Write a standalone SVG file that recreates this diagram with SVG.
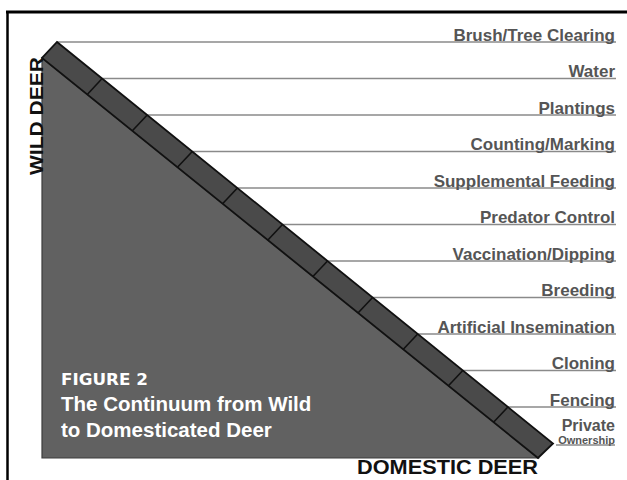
<svg xmlns="http://www.w3.org/2000/svg" width="627" height="480" viewBox="0 0 627 480">
<style>
.lbl{font-family:"Liberation Sans",Arial,sans-serif;font-weight:bold;font-size:17px;fill:#555;text-anchor:end}
.ln{stroke:#8a8a8a;stroke-width:1.6;fill:none}
.div{stroke:#111;stroke-width:1.6}
.cap{font-family:"Liberation Sans",Arial,sans-serif;font-weight:bold;fill:#fff}
.axis{font-family:"Liberation Sans",Arial,sans-serif;font-weight:bold;fill:#111}
</style>
<rect width="627" height="480" fill="#fff"/>
<g id="frame">
<line x1="6" y1="12" x2="627" y2="12" stroke="#000" stroke-width="3"/>
<line x1="7.5" y1="11" x2="7.5" y2="480" stroke="#000" stroke-width="2.5"/>
</g>
<g id="triangle">
<polygon points="42,58 42,458 538,458" fill="#616161" stroke="#3c3c3c" stroke-width="1.2"/>
</g>
<g id="connectors">
<line class="ln" x1="57" y1="42" x2="616" y2="42"/>
<line class="ln" x1="102.1" y1="78.5" x2="616" y2="78.5"/>
<line class="ln" x1="147.2" y1="115" x2="616" y2="115"/>
<line class="ln" x1="192.3" y1="151.5" x2="616" y2="151.5"/>
<line class="ln" x1="237.4" y1="188" x2="616" y2="188"/>
<line class="ln" x1="282.5" y1="224.5" x2="616" y2="224.5"/>
<line class="ln" x1="327.5" y1="261" x2="616" y2="261"/>
<line class="ln" x1="372.6" y1="297.5" x2="616" y2="297.5"/>
<line class="ln" x1="417.7" y1="334" x2="616" y2="334"/>
<line class="ln" x1="462.8" y1="370.5" x2="616" y2="370.5"/>
<line class="ln" x1="507.9" y1="407" x2="616" y2="407"/>
<line class="ln" x1="556" y1="445" x2="615" y2="445"/>
</g>
<g id="band">
<polygon points="57,42 553,443.5 538,458 42,58" fill="#4a4a4a" stroke="#111" stroke-width="1.8" stroke-linejoin="miter"/>
<line class="div" x1="102.1" y1="78.5" x2="87.5" y2="94.2"/>
<line class="div" x1="147.2" y1="115" x2="132.6" y2="130.5"/>
<line class="div" x1="192.3" y1="151.5" x2="177.7" y2="167"/>
<line class="div" x1="237.4" y1="188" x2="222.8" y2="203.5"/>
<line class="div" x1="282.5" y1="224.5" x2="267.9" y2="240"/>
<line class="div" x1="327.5" y1="261" x2="312.9" y2="276.5"/>
<line class="div" x1="372.6" y1="297.5" x2="358" y2="313"/>
<line class="div" x1="417.7" y1="334" x2="403.1" y2="349.5"/>
<line class="div" x1="462.8" y1="370.5" x2="448.2" y2="386"/>
<line class="div" x1="507.9" y1="407" x2="493.3" y2="422.5"/>
</g>
<g id="labels">
<text class="lbl" x="615" y="40.5">Brush/Tree Clearing</text>
<text class="lbl" x="615" y="77">Water</text>
<text class="lbl" x="615" y="113.5">Plantings</text>
<text class="lbl" x="615" y="150">Counting/Marking</text>
<text class="lbl" x="615" y="186.5">Supplemental Feeding</text>
<text class="lbl" x="615" y="223">Predator Control</text>
<text class="lbl" x="615" y="259.5">Vaccination/Dipping</text>
<text class="lbl" x="615" y="296">Breeding</text>
<text class="lbl" x="615" y="332.5">Artificial Insemination</text>
<text class="lbl" x="615" y="369">Cloning</text>
<text class="lbl" x="615" y="405.5">Fencing</text>
<text class="lbl" x="615" y="431" style="font-size:16px">Private</text>
<text class="lbl" x="615" y="443.5" style="font-size:11px">Ownership</text>
</g>
<g id="axis-labels">
<text class="axis" x="357" y="474" font-size="19.5" textLength="181" lengthAdjust="spacingAndGlyphs">DOMESTIC DEER</text>
<text class="axis" transform="translate(42.5,175) rotate(-90)" font-size="19" textLength="118" lengthAdjust="spacingAndGlyphs">WILD DEER</text>
</g>
<g id="caption">
<text x="61" y="385" font-family="'DejaVu Sans',sans-serif" font-weight="bold" fill="#fff" font-size="16.5" textLength="87" lengthAdjust="spacingAndGlyphs">FIGURE 2</text>
<text class="cap" x="61" y="411" font-size="20.5">The Continuum from Wild</text>
<text class="cap" x="61" y="437" font-size="20.5">to Domesticated Deer</text>
</g>
</svg>
